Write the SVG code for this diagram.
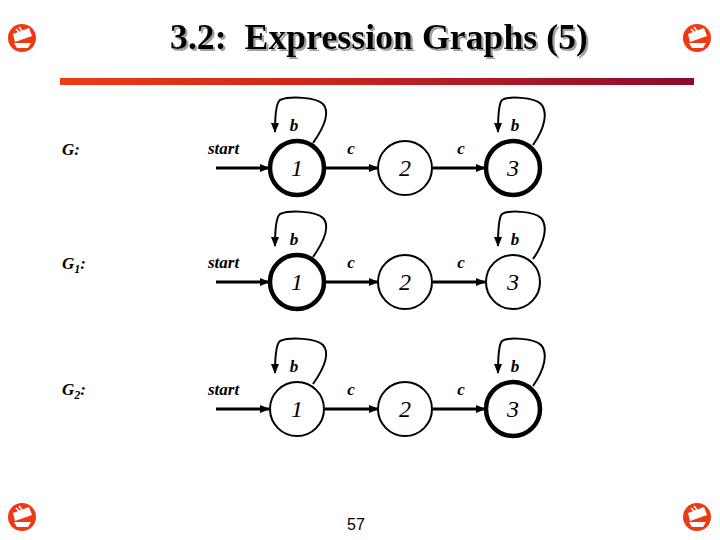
<svg xmlns="http://www.w3.org/2000/svg" width="720" height="540" viewBox="0 0 720 540">
<defs>
<linearGradient id="bar" x1="0" y1="0" x2="1" y2="0">
<stop offset="0" stop-color="#F23A12"/>
<stop offset="1" stop-color="#8E0A2E"/>
</linearGradient>
<filter id="shadow" x="-5%" y="-20%" width="110%" height="150%">
<feDropShadow dx="2" dy="2" stdDeviation="0" flood-color="#A0A0A0" flood-opacity="1"/>
</filter>
<marker id="ah" viewBox="0 0 10 10" refX="9" refY="5" markerWidth="10" markerHeight="10" markerUnits="userSpaceOnUse" orient="auto">
<path d="M0,1 L10,5 L0,9 z" fill="#000"/>
</marker>
<g id="icon">
<circle cx="0" cy="0" r="14" fill="#EE3A12"/>
<path d="M-9,-4 L7,-10 L10,-2 L-7,4 z" fill="#fff"/>
<path d="M-8,5 L9,5 L6,10 L-5,10 z" fill="#fff"/>
<path d="M-6,-9 L-2,-5 M-3,-11 L0,-7" stroke="#fff" stroke-width="1.5"/>
</g>
</defs>
<style>
.t{font-family:"Liberation Serif","Times New Roman",serif;}
.lab{font-family:"Liberation Serif",serif;font-style:italic;font-weight:bold;font-size:17px;}
.num{font-family:"Liberation Serif",serif;font-style:italic;font-size:24px;text-anchor:middle;}
.thin{fill:#fff;stroke:#000;stroke-width:2;}
.bold{fill:#fff;stroke:#000;stroke-width:4.5;}
.edge{fill:none;stroke:#000;stroke-width:3;}
.loop{fill:none;stroke:#000;stroke-width:2;}
</style>
<rect width="720" height="540" fill="#fff"/>
<g id="header">
<text x="379" y="49" class="t" font-size="35" font-weight="bold" text-anchor="middle" fill="#000" filter="url(#shadow)" xml:space="preserve" textLength="418" lengthAdjust="spacingAndGlyphs">3.2:  Expression Graphs (5)</text>
<rect x="60" y="78" width="634" height="7" fill="url(#bar)"/>
</g>
<g id="icons">
<use href="#icon" x="22" y="38"/>
<use href="#icon" x="697" y="38"/>
<use href="#icon" x="22" y="517"/>
<use href="#icon" x="697" y="517"/>
</g>
<text x="356" y="530" font-family="Liberation Sans,Arial,sans-serif" font-size="16" text-anchor="middle">57</text>
<g id="graph-labels">
<text x="62" y="155" class="lab">G:</text>
<text x="62" y="269" class="lab">G<tspan font-size="12" dy="4">1</tspan><tspan dy="-4">:</tspan></text>
<text x="62" y="395" class="lab">G<tspan font-size="12" dy="4">2</tspan><tspan dy="-4">:</tspan></text>
</g>
<g id="connectors">
<!-- row 1 -->
<line x1="216" y1="168" x2="269" y2="168" class="edge" marker-end="url(#ah)"/>
<line x1="325" y1="168" x2="378" y2="168" class="edge" marker-end="url(#ah)"/>
<line x1="433" y1="168" x2="485" y2="168" class="edge" marker-end="url(#ah)"/>
<path d="M313,143 C325,126 330,112 323,104 C316,97 290,96 280,100 C276,103 275,115 275,132" class="loop" marker-end="url(#ah)"/>
<path d="M533,145 C545,128 548,112 541,104 C534,97 508,96 502,100 C499,103 498,115 498,132" class="loop" marker-end="url(#ah)"/>
<!-- row 2 -->
<line x1="216" y1="282" x2="269" y2="282" class="edge" marker-end="url(#ah)"/>
<line x1="325" y1="282" x2="378" y2="282" class="edge" marker-end="url(#ah)"/>
<line x1="433" y1="282" x2="485" y2="282" class="edge" marker-end="url(#ah)"/>
<path d="M313,257 C325,240 330,226 323,218 C316,211 290,210 280,214 C276,217 275,229 275,246" class="loop" marker-end="url(#ah)"/>
<path d="M533,259 C545,242 548,226 541,218 C534,211 508,210 502,214 C499,217 498,229 498,246" class="loop" marker-end="url(#ah)"/>
<!-- row 3 -->
<line x1="216" y1="409" x2="269" y2="409" class="edge" marker-end="url(#ah)"/>
<line x1="325" y1="409" x2="378" y2="409" class="edge" marker-end="url(#ah)"/>
<line x1="433" y1="409" x2="485" y2="409" class="edge" marker-end="url(#ah)"/>
<path d="M313,384 C325,367 330,353 323,345 C316,338 290,337 280,341 C276,344 275,356 275,373" class="loop" marker-end="url(#ah)"/>
<path d="M533,386 C545,369 548,353 541,345 C534,338 508,337 502,341 C499,344 498,356 498,373" class="loop" marker-end="url(#ah)"/>
</g>
<g id="edge-labels" class="lab">
<text x="208" y="154">start</text>
<text x="351" y="154" text-anchor="middle">c</text>
<text x="461" y="154" text-anchor="middle">c</text>
<text x="294" y="131" text-anchor="middle">b</text>
<text x="515" y="131" text-anchor="middle">b</text>
<text x="208" y="268">start</text>
<text x="351" y="268" text-anchor="middle">c</text>
<text x="461" y="268" text-anchor="middle">c</text>
<text x="294" y="245" text-anchor="middle">b</text>
<text x="515" y="245" text-anchor="middle">b</text>
<text x="208" y="395">start</text>
<text x="351" y="395" text-anchor="middle">c</text>
<text x="461" y="395" text-anchor="middle">c</text>
<text x="294" y="372" text-anchor="middle">b</text>
<text x="515" y="372" text-anchor="middle">b</text>
</g>
<g id="G-n1"><circle cx="297" cy="168" r="27" class="bold"/><text x="297" y="176" class="num">1</text></g>
<g id="G-n2"><circle cx="405" cy="168" r="27" class="thin"/><text x="405" y="176" class="num" font-style="normal">2</text></g>
<g id="G-n3"><circle cx="513" cy="168" r="27" class="bold"/><text x="513" y="176" class="num">3</text></g>
<g id="G1-n1"><circle cx="297" cy="282" r="27" class="bold"/><text x="297" y="290" class="num">1</text></g>
<g id="G1-n2"><circle cx="405" cy="282" r="27" class="thin"/><text x="405" y="290" class="num" font-style="normal">2</text></g>
<g id="G1-n3"><circle cx="513" cy="282" r="27" class="thin"/><text x="513" y="290" class="num">3</text></g>
<g id="G2-n1"><circle cx="297" cy="409" r="27" class="thin"/><text x="297" y="417" class="num">1</text></g>
<g id="G2-n2"><circle cx="405" cy="409" r="27" class="thin"/><text x="405" y="417" class="num" font-style="normal">2</text></g>
<g id="G2-n3"><circle cx="513" cy="409" r="27" class="bold"/><text x="513" y="417" class="num">3</text></g>
</svg>
